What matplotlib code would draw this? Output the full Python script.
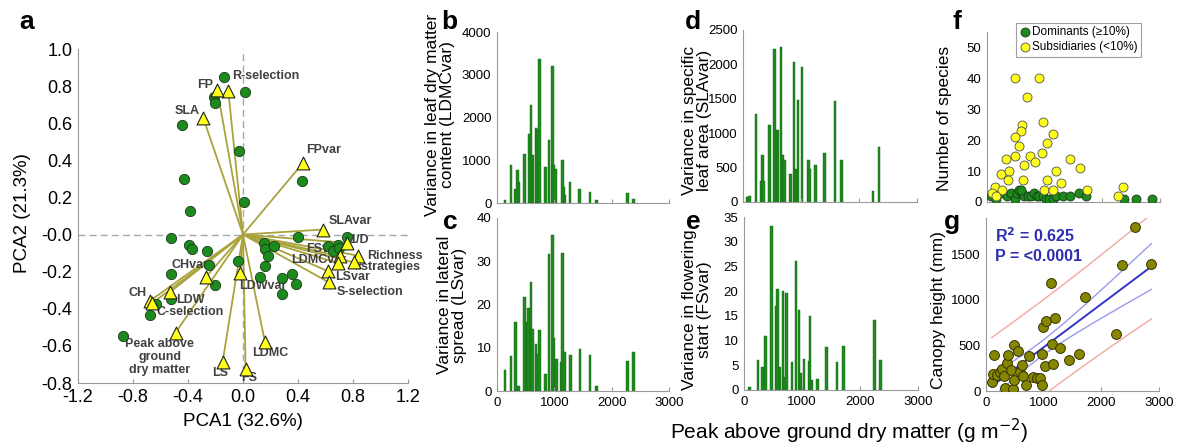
import matplotlib
matplotlib.use('Agg')
import matplotlib.pyplot as plt
import numpy as np

plt.rcParams['font.family'] = ['Liberation Sans', 'DejaVu Sans']
plt.rcParams['axes.unicode_minus'] = False

W, H = 1178, 445

# ---- panel a: PCA site scores and trait loadings
site_pc1 = [-0.14, -0.21, -0.20, 0.015, -0.44, -0.03, -0.43, 0.43, 0.01, -0.385,
            -0.52, -0.39, -0.37, -0.26, -0.25, -0.52, -0.20, -0.035,
            0.15, 0.16, 0.228, 0.185, 0.16, 0.12, 0.28, 0.355, 0.385, 0.28, 0.40,
            0.755, 0.62, 0.69, 0.655, 0.70,
            -0.633, -0.526, -0.676, -0.87]
site_pc2 = [0.85, 0.74, 0.71, 0.77, 0.59, 0.45, 0.30, 0.29, 0.175, 0.125,
            -0.02, -0.055, -0.08, -0.09, -0.165, -0.21, -0.27, -0.14,
            -0.045, -0.08, -0.063, -0.117, -0.17, -0.23, -0.235, -0.21, -0.265, -0.32, -0.015,
            -0.015, -0.06, -0.055, -0.09, -0.075,
            -0.375, -0.348, -0.432, -0.546]

trait_names = ['R-selection', 'FP', 'SLA', 'FPvar', 'SLAvar', '1/D', 'Richness', '#strategies',
               'FSvar', 'LDMCvar', 'LSvar', 'S-selection', 'LDWvar', 'CHvar', 'LDW', 'CH',
               'C-selection', 'Peak above\nground\ndry matter', 'LS', 'FS', 'LDMC']
trait_pc1 = [-0.107, -0.187, -0.288, 0.434, 0.579, 0.759, 0.839, 0.807,
             0.705, 0.689, 0.62, 0.625, -0.022, -0.27, -0.531, -0.676,
             -0.66, -0.49, -0.148, 0.019, 0.16]
trait_pc2 = [0.775, 0.78, 0.627, 0.384, 0.027, -0.045, -0.114, -0.15,
             -0.117, -0.153, -0.198, -0.258, -0.207, -0.229, -0.31, -0.357,
             -0.37, -0.528, -0.685, -0.726, -0.58]

# ---- panels b-e: variances against peak above ground dry matter
ldmc_x = [140, 244, 326, 355, 384, 483, 564, 593, 628, 680, 704, 745, 843, 907, 966,
          983, 1018, 1140, 1169, 1187, 1274, 1437, 1623, 1739, 2280, 2380]
ldmc_var = [80, 880, 320, 765, 490, 1150, 1620, 2300, 1115, 1755, 1740, 3377, 842, 1482, 3198,
            880, 803, 998, 374, 180, 491, 335, 257, 78, 234, 101]

ls_x = [140, 244, 326, 378, 483, 520, 553, 593, 622, 680, 710, 745, 843, 907, 966, 995,
        1041, 1129, 1146, 1175, 1286, 1448, 1623, 1739, 2280, 2380]
ls_var = [4.9, 8.0, 15.9, 1.2, 21.7, 16.0, 19.3, 25.3, 14.3, 10.8, 8.5, 14.1, 4.0, 31.7, 36.1, 12.3,
          7.5, 6.7, 32.0, 9.0, 8.3, 9.6, 8.3, 1.1, 7.0, 9.0]

sla_x = [81, 115, 225, 311, 340, 358, 456, 542, 571, 600, 657, 686, 715, 819, 882,
         917, 946, 1015, 1125, 1148, 1251, 1407, 1586, 1701, 2243, 2347]
sla_var = [73, 83, 1286, 300, 680, 300, 1116, 2218, 1044, 1044, 2257, 680, 607, 413, 2029,
           485, 1480, 1966, 607, 485, 534, 713, 1471, 607, 155, 801]

fs_x = [98, 242, 317, 375, 473, 554, 582, 623, 675, 703, 732, 825, 900, 946, 980,
        1032, 1119, 1136, 1171, 1263, 1424, 1603, 1713, 2249, 2353]
fs_var = [0.7, 6.1, 4.7, 10.9, 33.1, 17.0, 20.4, 4.7, 20.1, 2.7, 19.7, 5.7, 26.0, 16.2, 3.4,
          6.2, 5.9, 15.0, 2.0, 2.2, 8.8, 5.7, 8.9, 14.2, 6.1]

# ---- panel f: number of species
dom_x = [69, 156, 242, 346, 415, 485, 519, 560, 600, 646, 715, 762, 819, 866, 906, 964,
         1021, 1079, 1137, 1194, 1310, 1443, 1598, 1714, 2377, 2591, 2868, 589]
dom_n = [2, 1, 3, 2, 3, 1, 3, 4, 3, 2, 2, 2, 3, 2, 2, 2,
         1, 1, 1, 2, 2, 2, 3, 2, 1, 1, 1, 4]
sub_x = [485, 906, 687, 975, 600, 589, 1148, 485, 560, 1039, 952, 490, 744, 329, 1437, 635, 831,
         1616, 1189, 242, 375, 364, 1039, 1281, 617, 144, 87, 260, 992, 1137, 1731, 2366, 2273, 156]
sub_n = [40, 40, 34, 26, 25, 23, 22, 21, 18, 19, 16, 15, 15, 14, 14, 12, 13,
         11, 10, 9, 10, 7, 7, 6, 7, 5, 3, 4, 4, 4, 4, 5, 2, 2]

# ---- panel g: canopy height
ch_x = [98, 144, 127, 185, 242, 271, 312, 329, 369, 387, 427, 473, 485, 485, 560, 589, 617, 646,
        692, 744, 819, 889, 935, 964, 964, 981, 1033, 1021, 1119, 1137, 1154, 1194, 1281, 1437,
        1616, 1714, 2262, 2360, 2591, 2868]
ch_mm = [99, 392, 191, 180, 209, 246, 161, 33, 312, 392, 227, 26, 117, 510, 436, 209, 282, 161,
         62, 385, 154, 147, 143, 62, 411, 704, 770, 271, 1181, 521, 293, 803, 477, 345,
         411, 1034, 623, 1382, 1804, 1393]

GREEN = '#1d8a1d'
BAR = '#1f8c1f'
SPINE = '#9a9a9a'


def axes_px(left, top, right, bottom):
    return fig.add_axes([left / W, 1 - bottom / H, (right - left) / W, (bottom - top) / H])


def style(ax, size):
    for s in ['top', 'right']:
        ax.spines[s].set_visible(False)
    for s in ['left', 'bottom']:
        ax.spines[s].set_color(SPINE)
    ax.tick_params(axis='x', direction='in', length=3, color=SPINE, labelsize=size, pad=4)
    ax.tick_params(axis='y', length=0, labelsize=size, pad=4)


def ftext(px, py, s, **kw):
    fig.text(px / W, 1 - py / H, s, **kw)


fig = plt.figure(figsize=(W / 100, H / 100), dpi=100)

# panel a
ax = axes_px(78, 49, 408, 383)
style(ax, 13)
ax.axhline(0, color='#a8a8a8', lw=1, ls=(0, (5, 3)), zorder=0)
ax.axvline(0, color='#a8a8a8', lw=1, ls=(0, (5, 3)), zorder=0)
for x, y in zip(trait_pc1, trait_pc2):
    ax.plot([0, x], [0, y], color='#a9a33c', lw=1.3, zorder=1)
label_pos = {
    'R-selection': (-0.08, 0.852, 'left'), 'FP': (-0.215, 0.805, 'right'),
    'SLA': (-0.405, 0.665, 'center'), 'FPvar': (0.46, 0.455, 'left'),
    'SLAvar': (0.62, 0.072, 'left'), '1/D': (0.775, -0.03, 'left'),
    'Richness': (0.9, -0.114, 'left'), '#strategies': (0.815, -0.177, 'left'),
    'FSvar': (0.46, -0.076, 'left'), 'LDMCvar': (0.35, -0.139, 'left'),
    'LSvar': (0.67, -0.23, 'left'), 'S-selection': (0.68, -0.31, 'left'),
    'LDWvar': (-0.03, -0.279, 'left'), 'CHvar': (-0.52, -0.162, 'left'),
    'CH': (-0.70, -0.315, 'right'), 'LDW': (-0.487, -0.355, 'left'),
    'C-selection': (-0.63, -0.42, 'left'),
    'Peak above\nground\ndry matter': (-0.605, -0.66, 'center'),
    'LS': (-0.167, -0.748, 'center'), 'FS': (0.046, -0.775, 'center'),
    'LDMC': (0.196, -0.636, 'center'),
}
for name in trait_names:
    tx, ty, ha = label_pos[name]
    ax.text(tx, ty, name, ha=ha, va='center', fontsize=9, fontweight='bold',
            color='#404040', zorder=2, linespacing=1.15)
ax.scatter(site_pc1, site_pc2, s=55, color=GREEN, edgecolor='#1a3a1a', lw=0.6, zorder=3)
ax.scatter(trait_pc1, trait_pc2, s=85, marker='^', color='#ffff1a', edgecolor='#202020',
           lw=0.8, zorder=4)
ax.set_xlim(-1.2, 1.2)
ax.set_ylim(-0.8, 1.0)
ax.set_xticks(np.arange(-1.2, 1.21, 0.4))
ax.set_yticks(np.arange(-0.8, 1.01, 0.2))
ax.xaxis.set_major_formatter(plt.FormatStrFormatter('%.1f'))
ax.yaxis.set_major_formatter(plt.FormatStrFormatter('%.1f'))
ftext(23, 213, 'PCA2 (21.3%)', rotation=90, ha='center', va='center', fontsize=13.5)
ftext(243, 422, 'PCA1 (32.6%)', ha='center', va='center', fontsize=13.5)

# bar panels b-e
bar_panels = [
    (ldmc_x, ldmc_var, (497, 32, 669, 203), 4000, 1000, False),
    (ls_x, ls_var, (497, 218, 669, 391), 40, 10, True),
    (sla_x, sla_var, (743, 30, 917, 202), 2500, 500, False),
    (fs_x, fs_var, (744, 217, 918, 390), 35, 5, True),
]
for xs, vals, box, ytop, ystep, show_x in bar_panels:
    ax = axes_px(*box)
    style(ax, 9.5)
    ax.bar(xs, vals, width=44, color=BAR, edgecolor='#136013', lw=0.3)
    ax.set_xlim(0, 3000)
    ax.set_ylim(0, ytop)
    ax.set_xticks([0, 1000, 2000, 3000])
    ax.set_yticks(np.arange(0, ytop + 1, ystep))
    if not show_x:
        ax.set_xticklabels([])

ftext(440, 115, 'Variance in leaf dry matter\ncontent (LDMCvar)', rotation=90,
      ha='center', va='center', fontsize=12.5, linespacing=1.0)
ftext(452, 305, 'Variance in lateral\nspread (LSvar)', rotation=90,
      ha='center', va='center', fontsize=12.5, linespacing=1.0)
ftext(697, 120, 'Variance in specific\nleaf area (SLAvar)', rotation=90,
      ha='center', va='center', fontsize=12.5, linespacing=1.0)
ftext(697, 310, 'Variance in flowering\nstart (FSvar)', rotation=90,
      ha='center', va='center', fontsize=12.5, linespacing=1.0)

# panel f
ax = axes_px(987, 32, 1160, 202)
style(ax, 9.5)
ax.scatter(dom_x, dom_n, s=42, color=GREEN, edgecolor='#1a3a1a', lw=0.6, zorder=3,
           label='Dominants (\u226510%)')
ax.scatter(sub_x, sub_n, s=42, color='#ffff1a', edgecolor='#505050', lw=0.6, zorder=3,
           label='Subsidiaries (<10%)')
ax.set_xlim(0, 3000)
ax.set_ylim(0, 55)
ax.set_xticks([0, 1000, 2000, 3000])
ax.set_xticklabels([])
ax.set_yticks(np.arange(0, 51, 10))
leg = ax.legend(loc='upper left', bbox_to_anchor=(0.165, 1.055), fontsize=8.5, frameon=True,
                fancybox=False, borderaxespad=0, handletextpad=0.1, borderpad=0.3,
                labelspacing=0.25, handlelength=1.0, scatterpoints=1)
leg.get_frame().set_edgecolor('#888888')
leg.get_frame().set_linewidth(0.8)
ftext(945, 118, 'Number of species', rotation=90, ha='center', va='center', fontsize=12.5)

# panel g
ax = axes_px(986, 218, 1159, 391)
style(ax, 9.5)
gx = np.array(ch_x, dtype=float)
gy = np.array(ch_mm, dtype=float)
n = len(gx)
slope, icpt = np.polyfit(gx, gy, 1)
resid = gy - (slope * gx + icpt)
se = np.sqrt(np.sum(resid ** 2) / (n - 2))
sxx = np.sum((gx - gx.mean()) ** 2)
xl = np.linspace(gx.min(), gx.max(), 50)
yl = slope * xl + icpt
t = 2.02
conf = t * se * np.sqrt(1 / n + (xl - gx.mean()) ** 2 / sxx)
pred = t * se * np.sqrt(1 + 1 / n + (xl - gx.mean()) ** 2 / sxx)
ax.plot(xl, yl + pred, color='#f2a8a0', lw=1.0, zorder=1)
ax.plot(xl, yl - pred, color='#f2a8a0', lw=1.0, zorder=1)
ax.plot(xl, yl + conf, color='#9a9af0', lw=1.0, zorder=1)
ax.plot(xl, yl - conf, color='#9a9af0', lw=1.0, zorder=1)
ax.plot(xl, yl, color='#3434c8', lw=1.4, zorder=2)
ax.scatter(gx, gy, s=50, color='#868600', edgecolor='#333300', lw=0.7, zorder=3)
ax.set_xlim(0, 3000)
ax.set_ylim(0, 1900)
ax.set_xticks([0, 1000, 2000, 3000])
ax.set_yticks([0, 500, 1000, 1500])
ax.text(0.05, 0.9, 'R$^\\mathbf{2}$ = 0.625', transform=ax.transAxes, color='#2e2eb0',
        fontsize=11.5, fontweight='bold', va='center')
ax.text(0.05, 0.78, 'P = <0.0001', transform=ax.transAxes, color='#2e2eb0',
        fontsize=11.5, fontweight='bold', va='center')
ftext(938, 310, 'Canopy height (mm)', rotation=90, ha='center', va='center', fontsize=12.5)

# shared x label and panel letters
ftext(849, 431, 'Peak above ground dry matter (g m$^{-2}$)', ha='center', va='center',
      fontsize=15)
for letter, px, py in [('a', 27, 22), ('b', 449, 22), ('c', 450, 222), ('d', 693, 22),
                       ('e', 693, 222), ('f', 957, 22), ('g', 952, 222)]:
    ftext(px, py, letter, ha='center', va='center', fontsize=19, fontweight='bold')

fig.savefig('out.png', dpi=100)
